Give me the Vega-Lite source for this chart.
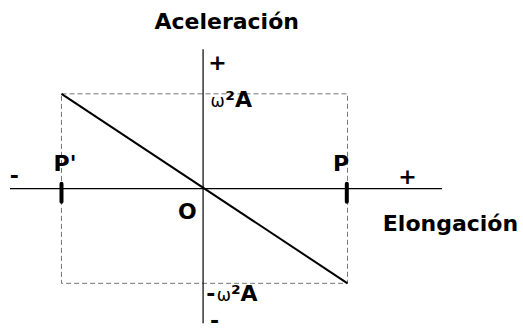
{
  "$schema": "https://vega.github.io/schema/vega-lite/v6.json",
  "width": 523,
  "height": 333,
  "padding": 0,
  "autosize": {"type": "fit", "contains": "padding"},
  "background": "white",
  "config": {"view": {"stroke": null}},
  "datasets": {
    "axes": [
      {"seg": "h", "x": -1.36, "y": 0},
      {"seg": "h", "x": 1.66, "y": 0},
      {"seg": "v", "x": -0.01, "y": 1.47},
      {"seg": "v", "x": -0.01, "y": -1.42}
    ],
    "box": [
      {"x": -1, "y": 1, "o": 0},
      {"x": 1, "y": 1, "o": 1},
      {"x": 1, "y": -1, "o": 2},
      {"x": -1, "y": -1, "o": 3},
      {"x": -1, "y": 1, "o": 4}
    ],
    "curve": [
      {"x": -1, "y": 1},
      {"x": 1, "y": -1}
    ],
    "ticks": [
      {"x": -1.0, "y1": 0.05, "y2": -0.14},
      {"x": 0.995, "y1": 0.05, "y2": -0.14}
    ],
    "labels": [
      {"t": "Aceleración", "x": 0.155, "y": 1.76},
      {"t": "+", "x": 0.09, "y": 1.33},
      {"t": "-", "x": -1.33, "y": 0.13},
      {"t": "P'", "x": -0.976, "y": 0.255},
      {"t": "P", "x": 0.955, "y": 0.255},
      {"t": "+", "x": 1.42, "y": 0.12},
      {"t": "O", "x": -0.12, "y": -0.245},
      {"t": "Elongación", "x": 1.72, "y": -0.378},
      {"t": "-", "x": 0.07, "y": -1.4}
    ],
    "boldleft": [
      {"t": "²A", "x": 0.145, "y": 0.93},
      {"t": "-", "x": 0.012, "y": -1.11},
      {"t": "²A", "x": 0.185, "y": -1.11}
    ],
    "omega": [
      {"t": "ω", "x": 0.042, "y": 0.91},
      {"t": "ω", "x": 0.085, "y": -1.13}
    ]
  },
  "layer": [
    {
      "data": {"name": "box"},
      "mark": {"type": "line", "color": "#777777", "strokeWidth": 1, "strokeDash": [5, 3]},
      "encoding": {
        "x": {"field": "x", "type": "quantitative", "scale": {"domain": [-1.43, 2.227], "nice": false, "zero": false}, "axis": null},
        "y": {"field": "y", "type": "quantitative", "scale": {"domain": [-1.408, 1.99], "nice": false, "zero": false}, "axis": null},
        "order": {"field": "o"}
      }
    },
    {
      "data": {"name": "axes"},
      "mark": {"type": "line", "color": "black", "strokeWidth": 1.2},
      "encoding": {
        "x": {"field": "x", "type": "quantitative"},
        "y": {"field": "y", "type": "quantitative"},
        "detail": {"field": "seg"}
      }
    },
    {
      "data": {"name": "curve"},
      "mark": {"type": "line", "color": "black", "strokeWidth": 2},
      "encoding": {
        "x": {"field": "x", "type": "quantitative"},
        "y": {"field": "y", "type": "quantitative"}
      }
    },
    {
      "data": {"name": "ticks"},
      "mark": {"type": "rule", "color": "black", "strokeWidth": 4, "strokeCap": "round"},
      "encoding": {
        "x": {"field": "x", "type": "quantitative"},
        "y": {"field": "y1", "type": "quantitative"},
        "y2": {"field": "y2"}
      }
    },
    {
      "data": {"name": "labels"},
      "mark": {"type": "text", "font": "DejaVu Sans", "fontWeight": "bold", "fontSize": 22, "color": "black", "align": "center", "baseline": "middle"},
      "encoding": {
        "x": {"field": "x", "type": "quantitative"},
        "y": {"field": "y", "type": "quantitative"},
        "text": {"field": "t"}
      }
    },
    {
      "data": {"name": "boldleft"},
      "mark": {"type": "text", "font": "DejaVu Sans", "fontWeight": "bold", "fontSize": 22, "color": "black", "align": "left", "baseline": "middle"},
      "encoding": {
        "x": {"field": "x", "type": "quantitative"},
        "y": {"field": "y", "type": "quantitative"},
        "text": {"field": "t"}
      }
    },
    {
      "data": {"name": "omega"},
      "mark": {"type": "text", "font": "DejaVu Sans", "fontWeight": "normal", "fontSize": 17, "color": "black", "align": "left", "baseline": "middle"},
      "encoding": {
        "x": {"field": "x", "type": "quantitative"},
        "y": {"field": "y", "type": "quantitative"},
        "text": {"field": "t"}
      }
    }
  ]
}
